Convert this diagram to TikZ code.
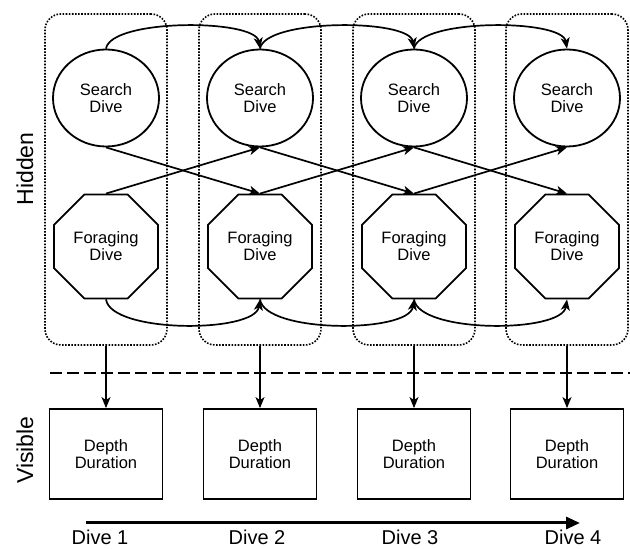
\documentclass[tikz,border=0pt]{standalone}
\usepackage{fontspec}
\setmainfont{Liberation Sans}
\usetikzlibrary{arrows.meta,shapes.geometric}
\tikzset{
  lbl/.style={font=\fontsize{16.5}{17}\selectfont, align=center, text=black},
  search/.style={lbl, ellipse, draw, line width=1.8pt, minimum width=106pt, minimum height=97pt, inner sep=0pt},
  forage/.style={lbl, regular polygon, regular polygon sides=8, draw, line width=1.8pt, minimum size=112.6pt, inner sep=0pt},
  obs/.style={lbl, rectangle, draw, line width=1.8pt, minimum width=113pt, minimum height=90pt, inner sep=0pt},
  group/.style={draw, line width=1.6pt, dash pattern=on 1.6pt off 1.5pt, rounded corners=16pt, minimum width=122pt, minimum height=331pt, inner sep=0pt},
  arr/.style={line width=1.7pt, -{Stealth[length=11pt,width=9pt,inset=3pt]}},
  side/.style={font=\fontsize{23}{25}\selectfont, rotate=90},
  divelbl/.style={font=\fontsize{20}{22}\selectfont, anchor=base}
}
\begin{document}
\begin{tikzpicture}[x=1pt,y=1pt]
\useasboundingbox (0,0) rectangle (630,549);
% groups
\foreach \i/\x in {1/106,2/260,3/414,4/567}{
  \node[group] (g\i) at (\x,369.5) {};
  \node[search] (s\i) at (\x,451) {Search\\Dive};
  \node[forage] (f\i) at (\x,302.5) {Foraging\\Dive};
  \node[obs] (o\i) at (\x,95) {Depth\\Duration};
}
% dashed separator
\coordinate (dl) at (50,176);
\coordinate (dr) at (630,176);
\draw[line width=2.6pt, dash pattern=on 12pt off 5pt] (dl) -- (dr);
% transitions
\foreach \i/\j in {1/2,2/3,3/4}{
  \draw[arr] (s\i.north) .. controls ([xshift=5pt,yshift=30pt]s\i.north) and ([xshift=-5pt,yshift=30pt]s\j.north) .. (s\j.north);
  \draw[arr] (f\i.south) .. controls ([xshift=5pt,yshift=-34pt]f\i.south) and ([xshift=-5pt,yshift=-34pt]f\j.south) .. (f\j.south);
  \draw[arr] (s\i.south) -- (f\j.north);
  \draw[arr] (f\i.north) -- (s\j.south);
}
% emissions
\foreach \i in {1,2,3,4}{
  \draw[arr] (g\i.south) -- (o\i.north);
}
% side labels
\node[side] (hid) at (25,380) {Hidden};
\node[side] (vis) at (25,99) {Visible};
% time arrow
\coordinate (ta) at (86,26);
\coordinate (tb) at (580,26);
\draw[line width=3pt, -{Triangle[length=14pt,width=12pt]}] (ta) -- (tb);
\node[divelbl] (d1) at (100,4) {Dive 1};
\node[divelbl] (d2) at (257,4) {Dive 2};
\node[divelbl] (d3) at (410,4) {Dive 3};
\node[divelbl] (d4) at (573,4) {Dive 4};
\end{tikzpicture}
\end{document}
